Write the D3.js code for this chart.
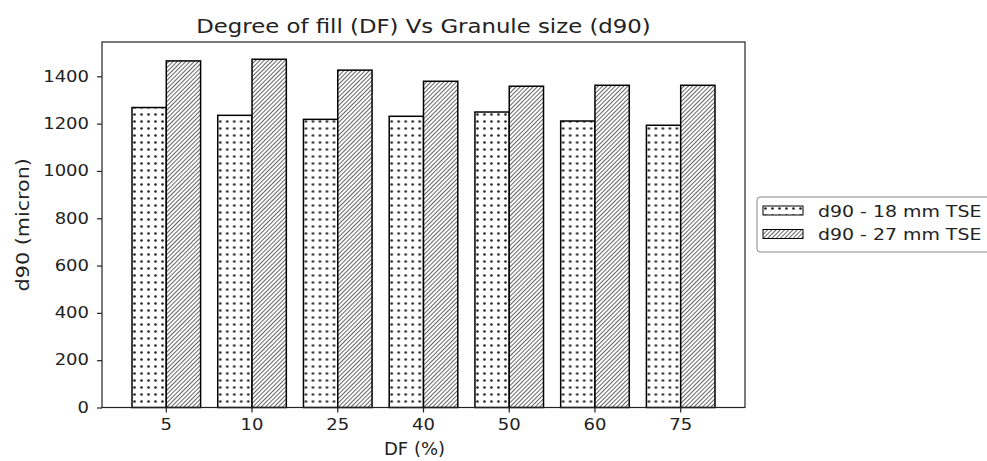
<!DOCTYPE html>
<html>
<head>
<meta charset="utf-8">
<script src="https://cdn.jsdelivr.net/npm/d3@7"></script>
<style>
  body { margin: 0; background: #fff; }
  svg { font-family: "DejaVu Sans", sans-serif; }
</style>
</head>
<body>
<div class="chart-container"></div>
<script>
//! DATA
const categories = ['5', '10', '25', '40', '50', '60', '75']
const seriesNames = ['d90 - 18 mm TSE', 'd90 - 27 mm TSE']
const d90_18mm = [1268, 1235, 1218, 1231, 1249, 1211, 1193]
const d90_27mm = [1465, 1472, 1426, 1379, 1358, 1362, 1362]
const yTicks = [0, 200, 400, 600, 800, 1000, 1200, 1400]

//! CONSTS
const WIDTH = 987
const HEIGHT = 461
const LEFT = 102, RIGHT = 745, TOP = 42, BOTTOM = 407.5

const svg = d3.select('.chart-container')
  .append('svg')
  .attr('width', WIDTH)
  .attr('height', HEIGHT)

// widen glyphs a bit, the source text is drawn wider than DejaVu
const stretch = (sel, k) => sel.each(function () {
  const len = this.getComputedTextLength()
  d3.select(this)
    .attr('textLength', len * k)
    .attr('lengthAdjust', 'spacingAndGlyphs')
})

//! PATTERNS
const defs = svg.append('defs')

const dots = defs.append('pattern')
  .attr('id', 'dots')
  .attr('patternUnits', 'userSpaceOnUse')
  .attr('width', 7)
  .attr('height', 7)
dots.append('rect').attr('width', 7).attr('height', 7).attr('fill', '#fff')
dots.append('circle').attr('cx', 2.5).attr('cy', 2.5).attr('r', 1.3).attr('fill', '#222')

const diag = defs.append('pattern')
  .attr('id', 'diag')
  .attr('patternUnits', 'userSpaceOnUse')
  .attr('width', 3)
  .attr('height', 3)
  .attr('patternTransform', 'rotate(45)')
diag.append('rect').attr('width', 3).attr('height', 3).attr('fill', '#fff')
diag.append('line')
  .attr('x1', 0).attr('y1', 0).attr('x2', 0).attr('y2', 3)
  .attr('stroke', '#333').attr('stroke-width', 1.5)

const fills = ['url(#dots)', 'url(#diag)']

//! SCALES
const xScale = d3.scaleBand()
  .domain(categories)
  .range([LEFT, RIGHT])
  .paddingInner(0.2)
  .paddingOuter(0.35)

const inner = d3.scaleBand()
  .domain([0, 1])
  .range([0, xScale.bandwidth()])

const yScale = d3.scaleLinear()
  .domain([0, 1545])
  .range([BOTTOM, TOP])

const rows = categories.map((c, i) => ({ cat: c, values: [d90_18mm[i], d90_27mm[i]] }))

//! BARS
const groups = svg.append('g')
  .selectAll('g')
  .data(rows)
  .enter()
  .append('g')
  .attr('transform', d => `translate(${xScale(d.cat)},0)`)

groups.selectAll('rect')
  .data(d => d.values.map((v, s) => ({ v, s })))
  .enter()
  .append('rect')
  .attr('x', d => inner(d.s))
  .attr('y', d => yScale(d.v))
  .attr('width', inner.bandwidth())
  .attr('height', d => yScale(0) - yScale(d.v))
  .attr('fill', d => fills[d.s])
  .attr('stroke', '#000')
  .attr('stroke-width', 1.5)

//! AXES
const xAxis = d3.axisBottom(xScale).tickSizeOuter(0).tickSize(5).tickPadding(7)
const yAxis = d3.axisLeft(yScale)
  .tickValues(yTicks)
  .tickFormat(d3.format('d'))
  .tickSizeOuter(0).tickSize(5).tickPadding(8)

svg.append('g')
  .attr('transform', `translate(0,${BOTTOM})`)
  .call(xAxis)
svg.append('g')
  .attr('transform', `translate(${LEFT},0)`)
  .call(yAxis)

svg.selectAll('.domain').remove()
svg.selectAll('.tick line').attr('stroke', '#222').attr('stroke-width', 1.2)
svg.selectAll('.tick text')
  .attr('font-size', 15)
  .attr('fill', '#222')
  .attr('font-family', '"DejaVu Sans", sans-serif')
  .call(stretch, 1.2)

// frame
svg.append('rect')
  .attr('x', LEFT).attr('y', TOP)
  .attr('width', RIGHT - LEFT).attr('height', BOTTOM - TOP)
  .attr('fill', 'none')
  .attr('stroke', '#222')
  .attr('stroke-width', 1.2)

//! TEXT
svg.append('text')
  .attr('x', (LEFT + RIGHT) / 2)
  .attr('y', 33)
  .attr('text-anchor', 'middle')
  .attr('font-size', 19)
  .attr('fill', '#222')
  .text('Degree of fill (DF) Vs Granule size (d90)')
  .call(stretch, 1.2)

svg.append('text')
  .attr('x', (LEFT + RIGHT) / 2 - 9)
  .attr('y', 455)
  .attr('text-anchor', 'middle')
  .attr('font-size', 18)
  .attr('fill', '#222')
  .text('DF (%)')

svg.append('text')
  .attr('transform', `translate(29,${(TOP + BOTTOM) / 2}) rotate(-90)`)
  .attr('text-anchor', 'middle')
  .attr('font-size', 18)
  .attr('fill', '#222')
  .text('d90 (micron)')
  .call(stretch, 1.15)

//! LEGEND
const legend = svg.append('g').attr('transform', 'translate(757,197)')
legend.append('rect')
  .attr('width', 240).attr('height', 55)
  .attr('rx', 3)
  .attr('fill', '#fff')
  .attr('stroke', '#888')
  .attr('stroke-width', 1)

const items = legend.selectAll('g.item')
  .data(seriesNames)
  .enter()
  .append('g')
  .attr('class', 'item')
  .attr('transform', (d, i) => `translate(6,${9 + i * 23.5})`)
items.append('rect')
  .attr('width', 40).attr('height', 9)
  .attr('fill', (d, i) => fills[i])
  .attr('stroke', '#000')
  .attr('stroke-width', 1)
items.append('text')
  .attr('x', 55)
  .attr('y', 10.5)
  .attr('font-size', 15.5)
  .attr('fill', '#222')
  .text(d => d)
  .call(stretch, 1.22)
</script>
</body>
</html>
